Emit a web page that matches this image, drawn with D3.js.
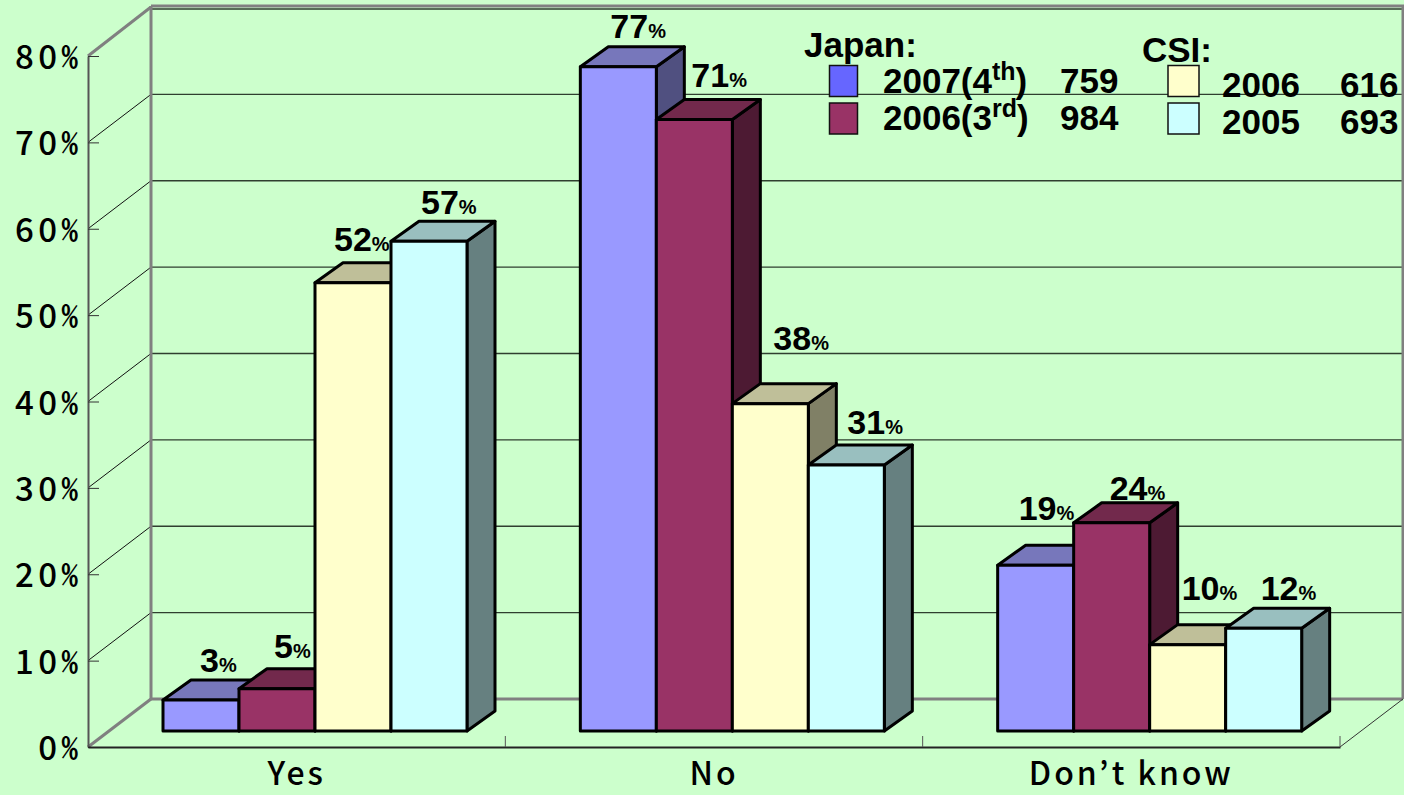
<!DOCTYPE html>
<html>
<head>
<meta charset="utf-8">
<script src="https://cdn.jsdelivr.net/npm/d3@7"></script>
<style>
html, body { margin: 0; padding: 0; background: #CCFFCC; overflow: hidden; }
svg { display: block; }
.arial { font-family: 'Liberation Sans', Arial, sans-serif; font-weight: bold; fill: #000; }
.gothic { font-family: 'Noto Sans CJK JP', sans-serif; font-weight: 500; font-size: 33px; letter-spacing: 4.5px; fill: #000; }
.half { font-feature-settings: 'hwid'; letter-spacing: 0; }
.cat { font-size: 32px; letter-spacing: 3px; }
</style>
</head>
<body>
<script>
// data
var categories = ['Yes', 'No', 'Don\u2019t know']
var seriesNames = ['2007', '2006j', '2006c', '2005']
var series2007 = [3.6, 76.9, 19.2]
var series2006j = [4.9, 70.8, 24.1]
var series2006c = [51.9, 37.9, 10]
var series2005 = [56.7, 30.8, 11.9]
var shown2007 = ['3', '77', '19']
var shown2006j = ['5', '71', '24']
var shown2006c = ['52', '38', '10']
var shown2005 = ['57', '31', '12']
var yTicks = [0, 10, 20, 30, 40, 50, 60, 70, 80]

var allValues = [series2007, series2006j, series2006c, series2005]
var allShown = [shown2007, shown2006j, shown2006c, shown2005]

// [front, top, side]
var barColors = [
    ['#9999FF', '#7777BB', '#505080'],
    ['#993366', '#72294C', '#4D1A33'],
    ['#FFFFCC', '#BFBF99', '#808066'],
    ['#CCFFFF', '#99BFBF', '#668080']
]

// hand placed value labels, relative to the top left corner of each bar (series, category)
var labelNudge = [
    [[37, -28], [30, -29], [21, -45]],
    [[35, -31], [35, -32], [36, -23]],
    [[19, -32], [41, -54], [32, -45]],
    [[30, -27], [39, -31], [35, -28]]
]

var width = 1404
var height = 795

// the walls sit behind the front plane
var wallDx = 63
var wallDy = -48
// the bars stand a little way in from the front edge of the floor
var barLift = 16
var depthX = 28
var depthY = -20

var left = 88
var right = 1340
var bottom = 747
var top80 = 56

var svg = d3.select('body').append('svg')
    .attr('width', width)
    .attr('height', height)

var y = d3.scaleLinear().domain([0, 80]).range([bottom, top80])
var x = d3.scaleBand().domain(categories).range([left, right])
var inner = d3.scaleBand().domain(seriesNames).range([75, 379])

function drawWalls() {
    var g = svg.append('g')

    // gridlines on back wall and left wall
    yTicks.forEach(function(t) {
        if (t > 0) {
            g.append('line')
                .attr('x1', left + wallDx).attr('x2', right + wallDx)
                .attr('y1', y(t) + wallDy + (t == 80 ? 1 : 0)).attr('y2', y(t) + wallDy + (t == 80 ? 1 : 0))
                .attr('stroke', '#2f3f2f').attr('stroke-width', 1.3)
        }
        if (t > 0 && t < 80) {
            g.append('line')
                .attr('x1', left).attr('x2', left + wallDx)
                .attr('y1', y(t)).attr('y2', y(t) + wallDy)
                .attr('stroke', '#111').attr('stroke-width', 1)
        }
    })

    var grey = '#808080'
    var wall = [
        [[left, y(80)], [left + wallDx, y(80) + wallDy - 1]],
        [[left + wallDx, y(80) + wallDy - 2], [right + wallDx + 2, y(80) + wallDy - 2]],
        [[left + wallDx, y(80) + wallDy - 2], [left + wallDx, y(0) + wallDy]],
        [[right + wallDx, y(80) + wallDy - 2], [right + wallDx, y(0) + wallDy]],
        [[left + wallDx, y(0) + wallDy], [right + wallDx, y(0) + wallDy]],
        [[left, y(0)], [left + wallDx, y(0) + wallDy]]
    ]
    wall.forEach(function(p) {
        g.append('line')
            .attr('x1', p[0][0]).attr('y1', p[0][1])
            .attr('x2', p[1][0]).attr('y2', p[1][1])
            .attr('stroke', grey).attr('stroke-width', 3)
    })

    // right edge of the floor
    g.append('line')
        .attr('x1', right).attr('y1', y(0))
        .attr('x2', right + wallDx).attr('y2', y(0) + wallDy)
        .attr('stroke', '#333').attr('stroke-width', 1)
}

function drawAxes() {
    var yAxis = d3.axisLeft(y)
        .tickValues(yTicks)
        .tickFormat(function(d) { return d })
        .tickSizeInner(-11)
        .tickSizeOuter(0)
        .tickPadding(10)

    var yg = svg.append('g')
        .attr('transform', 'translate(' + left + ',0)')
        .call(yAxis)
    yg.select('.domain').attr('stroke', '#555').attr('stroke-width', 2)
    yg.selectAll('.tick line').attr('stroke', '#333').attr('stroke-width', 1)
    yg.selectAll('.tick text')
        .attr('class', 'gothic')
        .attr('fill', null)
        .attr('y', 2)
        .append('tspan')
            .attr('class', 'half')
            .text('%')

    var xAxis = d3.axisBottom(x).tickSize(0).tickPadding(15)
    var xg = svg.append('g')
        .attr('transform', 'translate(0,' + bottom + ')')
        .call(xAxis)
    xg.select('.domain').attr('stroke', '#222').attr('stroke-width', 2)
    xg.selectAll('.tick text')
        .attr('class', 'gothic cat')
        .attr('fill', null)

    // separators between categories, the band axis puts its own ticks mid band
    categories.forEach(function(c) {
        var tx = x(c) + x.bandwidth()
        svg.append('line')
            .attr('x1', tx).attr('x2', tx)
            .attr('y1', bottom).attr('y2', bottom - 11)
            .attr('stroke', '#555').attr('stroke-width', 1)
    })
}

function drawBars() {
    categories.forEach(function(cat) {
        seriesNames.forEach(function(name, s) {
            var value = allValues[s][categories.indexOf(cat)]
            var x0 = x(cat) + inner(name)
            var x1 = x0 + inner.bandwidth()
            var y0 = y(value) - barLift
            var y1 = y(0) - barLift
            var g = svg.append('g')
                .attr('stroke', '#000')
                .attr('stroke-width', 3)
                .attr('stroke-linejoin', 'round')

            g.append('path')
                .attr('fill', barColors[s][2])
                .attr('d', d3.line()([[x1, y0], [x1 + depthX, y0 + depthY], [x1 + depthX, y1 + depthY], [x1, y1]]) + 'Z')
            g.append('path')
                .attr('fill', barColors[s][1])
                .attr('d', d3.line()([[x0, y0], [x0 + depthX, y0 + depthY], [x1 + depthX, y0 + depthY], [x1, y0]]) + 'Z')
            g.append('rect')
                .attr('x', x0).attr('y', y0)
                .attr('width', x1 - x0).attr('height', y1 - y0)
                .attr('fill', barColors[s][0])
        })
    })
}

function drawValueLabels() {
    categories.forEach(function(cat, c) {
        seriesNames.forEach(function(name, s) {
            var nudge = labelNudge[s][c]
            var t = svg.append('text')
                .attr('class', 'arial')
                .attr('x', x(cat) + inner(name) + nudge[0])
                .attr('y', y(allValues[s][c]) - barLift + nudge[1])
                .style('font-size', '34px')
            t.append('tspan').text(allShown[s][c])
            t.append('tspan').text('%').style('font-size', '20px')
        })
    })
}

function drawLegend() {
    var g = svg.append('g')

    function label(tx, ty, txt, sup, tail) {
        var t = g.append('text').attr('class', 'arial')
            .attr('x', tx).attr('y', ty)
            .style('font-size', '35px')
        t.append('tspan').text(txt)
        if (sup) {
            t.append('tspan').text(sup).attr('dy', -13).style('font-size', '25px')
            t.append('tspan').text(tail).attr('dy', 13)
        }
    }

    function swatch(sx, sy, w, h, fill) {
        g.append('rect')
            .attr('x', sx).attr('y', sy)
            .attr('width', w).attr('height', h)
            .attr('fill', fill)
            .attr('stroke', '#111').attr('stroke-width', 1.5)
    }

    label(804, 57, 'Japan:')
    swatch(829.5, 65.5, 28, 31, '#6666FF')
    swatch(829.5, 103, 28, 31, '#993366')
    label(883, 93, '2007(4', 'th', ')')
    label(883, 130, '2006(3', 'rd', ')')
    label(1060, 93, '759')
    label(1060, 130, '984')

    label(1142, 62, 'CSI:')
    swatch(1168, 65.5, 31, 31, '#FFFFCC')
    swatch(1168, 103, 31, 31, '#CCFFFF')
    label(1222, 97, '2006')
    label(1222, 134, '2005')
    label(1340, 97, '616')
    label(1340, 134, '693')
}

drawWalls()
drawAxes()
drawBars()
drawValueLabels()
drawLegend()
</script>
</body>
</html>
